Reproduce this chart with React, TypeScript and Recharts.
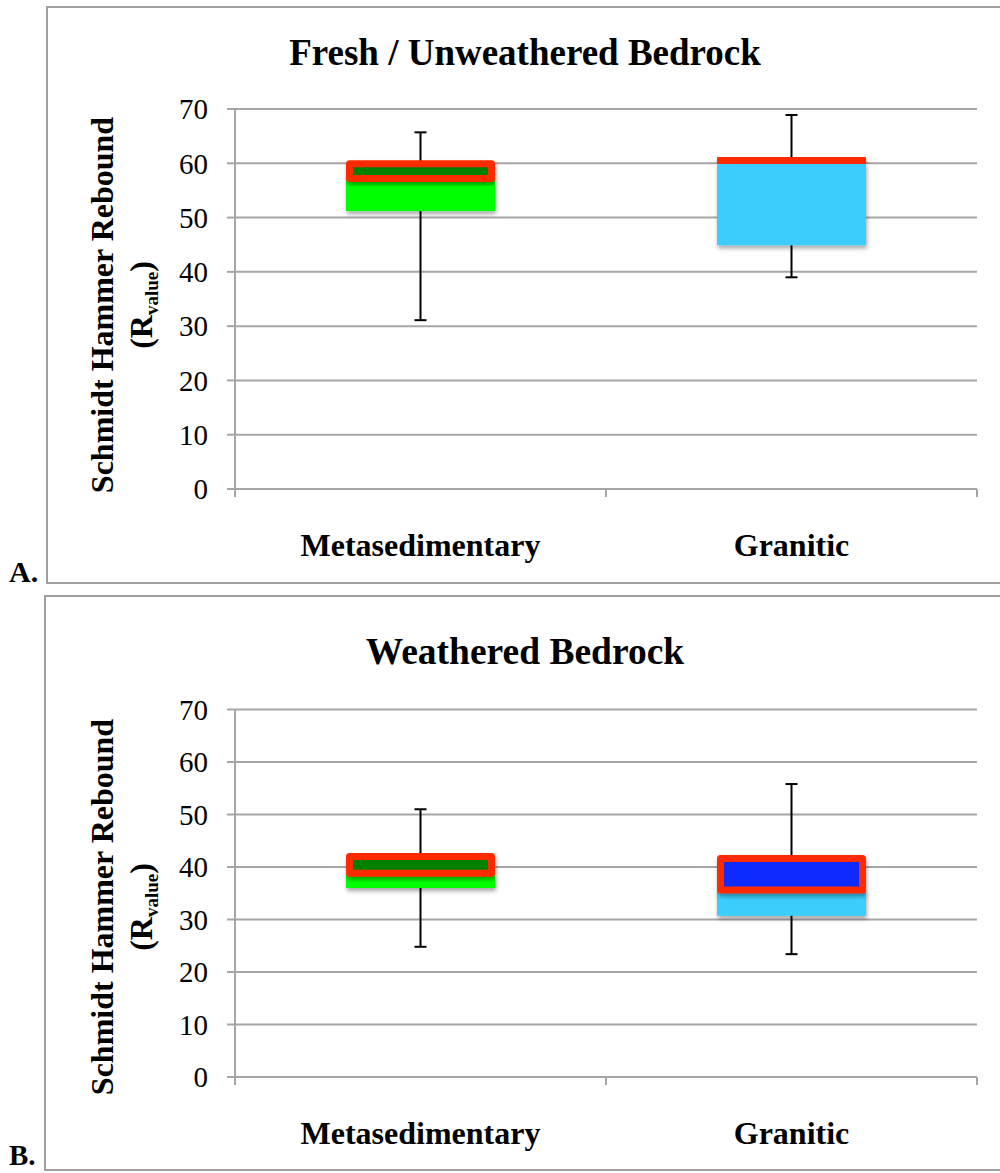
import React from 'react';
import { BarChart, Bar, XAxis, YAxis, CartesianGrid } from 'recharts';

// ---- data ----
const categories = ['Metasedimentary', 'Granitic'];
const yTicks = [0, 10, 20, 30, 40, 50, 60, 70];

const freshMin = [31.1, 39.0];
const freshQ1 = [51.2, 44.9];
const freshMedian = [57.2, 60.2];
const freshQ3 = [59.9, 60.8];
const freshMax = [65.7, 68.9];

const weatheredMin = [24.8, 23.4];
const weatheredQ1 = [36.0, 30.7];
const weatheredMedian = [38.8, 35.6];
const weatheredQ3 = [42.0, 41.6];
const weatheredMax = [51.0, 55.8];

const lowerColors = ['#00ff00', '#3dcdfd'];
const upperColors = ['#008000', '#0f2cff'];

const titleFresh = 'Fresh / Unweathered Bedrock';
const titleWeathered = 'Weathered Bedrock';

const SERIF = '"Liberation Serif", "Times New Roman", serif';
const GRAY = '#a6a6a6';
const RED = '#ff2a00';

function buildRows(mn: number[], q1: number[], md: number[], q3: number[], mx: number[]) {
  return categories.map((name, i) => ({
    name,
    base: q1[i],
    lower: +(md[i] - q1[i]).toFixed(2),
    upper: +(q3[i] - md[i]).toFixed(2),
    min: mn[i],
    max: mx[i],
  }));
}

const freshRows = buildRows(freshMin, freshQ1, freshMedian, freshQ3, freshMax);
const weatheredRows = buildRows(weatheredMin, weatheredQ1, weatheredMedian, weatheredQ3, weatheredMax);

const WhiskerShape = (props: any) => {
  const { x, y, width, height, payload } = props;
  if (!payload || !height) return null;
  const k = height / payload.base;
  const bottom = y + height;
  const cx = x + width / 2;
  const yMin = bottom - payload.min * k;
  const yMax = bottom - payload.max * k;
  return (
    <g>
      <line x1={cx} x2={cx} y1={yMin} y2={yMax} stroke="#000" strokeWidth={2} />
      <line x1={cx - 6} x2={cx + 6} y1={yMin} y2={yMin} stroke="#000" strokeWidth={2} />
      <line x1={cx - 6} x2={cx + 6} y1={yMax} y2={yMax} stroke="#000" strokeWidth={2} />
    </g>
  );
};

const makeLowerShape = (fid: string) => (props: any) => {
  const { x, y, width, height, index } = props;
  return (
    <rect x={x} y={y} width={width} height={Math.max(0, height)} fill={lowerColors[index]} filter={`url(#${fid})`} />
  );
};

const makeUpperShape = (fid: string) => (props: any) => {
  const { x, y, width, height, index } = props;
  return (
    <rect
      x={x + 3.5}
      y={y}
      width={width - 7}
      height={Math.max(0, height)}
      fill={upperColors[index]}
      stroke={RED}
      strokeWidth={7}
      strokeLinejoin="round"
      filter={`url(#${fid})`}
    />
  );
};

const CategoryTick = (props: any) => {
  const { x, y, payload } = props;
  const half = payload && typeof payload.offset === 'number' && payload.offset > 20 ? payload.offset : 185.5;
  return (
    <g>
      <line x1={x - half} x2={x - half} y1={y} y2={y + 8} stroke={GRAY} strokeWidth={2} />
      <line x1={x + half} x2={x + half} y1={y} y2={y + 8} stroke={GRAY} strokeWidth={2} />
      <text x={x} y={y + 67} textAnchor="middle" fontFamily={SERIF} fontWeight="bold" fontSize={32} fill="#000">
        {payload.value}
      </text>
    </g>
  );
};

const makeYLabel = (cy: number) => () => (
  <g>
    <text
      x={113}
      y={cy}
      transform={`rotate(-90, 113, ${cy})`}
      textAnchor="middle"
      fontFamily={SERIF}
      fontWeight="bold"
      fontSize={32}
      fill="#000"
    >
      Schmidt Hammer Rebound
    </text>
    <text
      x={152}
      y={cy}
      transform={`rotate(-90, 152, ${cy})`}
      textAnchor="middle"
      fontFamily={SERIF}
      fontWeight="bold"
      fontSize={32}
      fill="#000"
    >
      (R<tspan fontSize={19} dy={6}>value</tspan>
      <tspan dy={-6}>)</tspan>
    </text>
  </g>
);

type PanelProps = {
  rows: any[];
  top: number;
  height: number;
  margin: { top: number; right: number; left: number; bottom: number };
  labelCy: number;
  fid: string;
};

const Panel = ({ rows, top, height, margin, labelCy, fid }: PanelProps) => (
  <div style={{ position: 'absolute', left: 0, top }}>
    <BarChart width={1000} height={height} data={rows} margin={margin} barSize={149}>
      <defs>
        <filter id={fid} x="-10%" y="-30%" width="120%" height="180%">
          <feDropShadow dx="1" dy="3" stdDeviation="2" floodColor="#000" floodOpacity="0.35" />
        </filter>
      </defs>
      <CartesianGrid vertical={false} stroke={GRAY} strokeWidth={2} />
      <XAxis
        dataKey="name"
        height={60}
        axisLine={{ stroke: GRAY, strokeWidth: 2 }}
        tickLine={false}
        tickSize={0}
        tickMargin={0}
        tick={<CategoryTick />}
        interval={0}
      />
      <YAxis
        width={235}
        domain={[0, 70]}
        ticks={yTicks}
        interval={0}
        axisLine={{ stroke: GRAY, strokeWidth: 2 }}
        tickLine={{ stroke: GRAY, strokeWidth: 2 }}
        tickSize={8}
        tickMargin={19}
        tick={{ fontFamily: SERIF, fontSize: 29, fill: '#000' }}
        label={{ content: makeYLabel(labelCy) }}
      />
      <Bar dataKey="base" stackId="a" fill="transparent" shape={WhiskerShape} isAnimationActive={false} />
      <Bar dataKey="lower" stackId="a" shape={makeLowerShape(fid)} isAnimationActive={false} />
      <Bar dataKey="upper" stackId="a" shape={makeUpperShape(fid)} isAnimationActive={false} />
    </BarChart>
  </div>
);

export default function App() {
  return (
    <div
      style={{
        position: 'absolute',
        left: 0,
        top: 0,
        width: 1000,
        height: 1173,
        overflow: 'hidden',
        background: '#fff',
      }}
    >
      <div
        style={{
          position: 'absolute',
          left: 46,
          top: 6,
          width: 1000,
          height: 578,
          border: `2px solid #a0a0a0`,
          boxSizing: 'border-box',
        }}
      />
      <div
        style={{
          position: 'absolute',
          left: 44,
          top: 595,
          width: 1000,
          height: 576,
          border: `2px solid #a0a0a0`,
          boxSizing: 'border-box',
        }}
      />
      <Panel
        rows={freshRows}
        top={0}
        height={585}
        margin={{ top: 109, right: 23, left: 0, bottom: 36 }}
        labelCy={305}
        fid="shadowA"
      />
      <Panel
        rows={weatheredRows}
        top={590}
        height={580}
        margin={{ top: 119.5, right: 23, left: 0, bottom: 33 }}
        labelCy={317}
        fid="shadowB"
      />
      <svg
        width={1000}
        height={1173}
        style={{ position: 'absolute', left: 0, top: 0, pointerEvents: 'none' }}
      >
        <text x={525} y={65} textAnchor="middle" fontFamily={SERIF} fontWeight="bold" fontSize={37} fill="#000">
          {titleFresh}
        </text>
        <text x={525} y={664} textAnchor="middle" fontFamily={SERIF} fontWeight="bold" fontSize={37.5} fill="#000">
          {titleWeathered}
        </text>
        <text x={9} y={582} fontFamily={SERIF} fontWeight="bold" fontSize={30} fill="#000">
          A.
        </text>
        <text x={9} y={1165} fontFamily={SERIF} fontWeight="bold" fontSize={29} fill="#000">
          B.
        </text>
      </svg>
    </div>
  );
}
